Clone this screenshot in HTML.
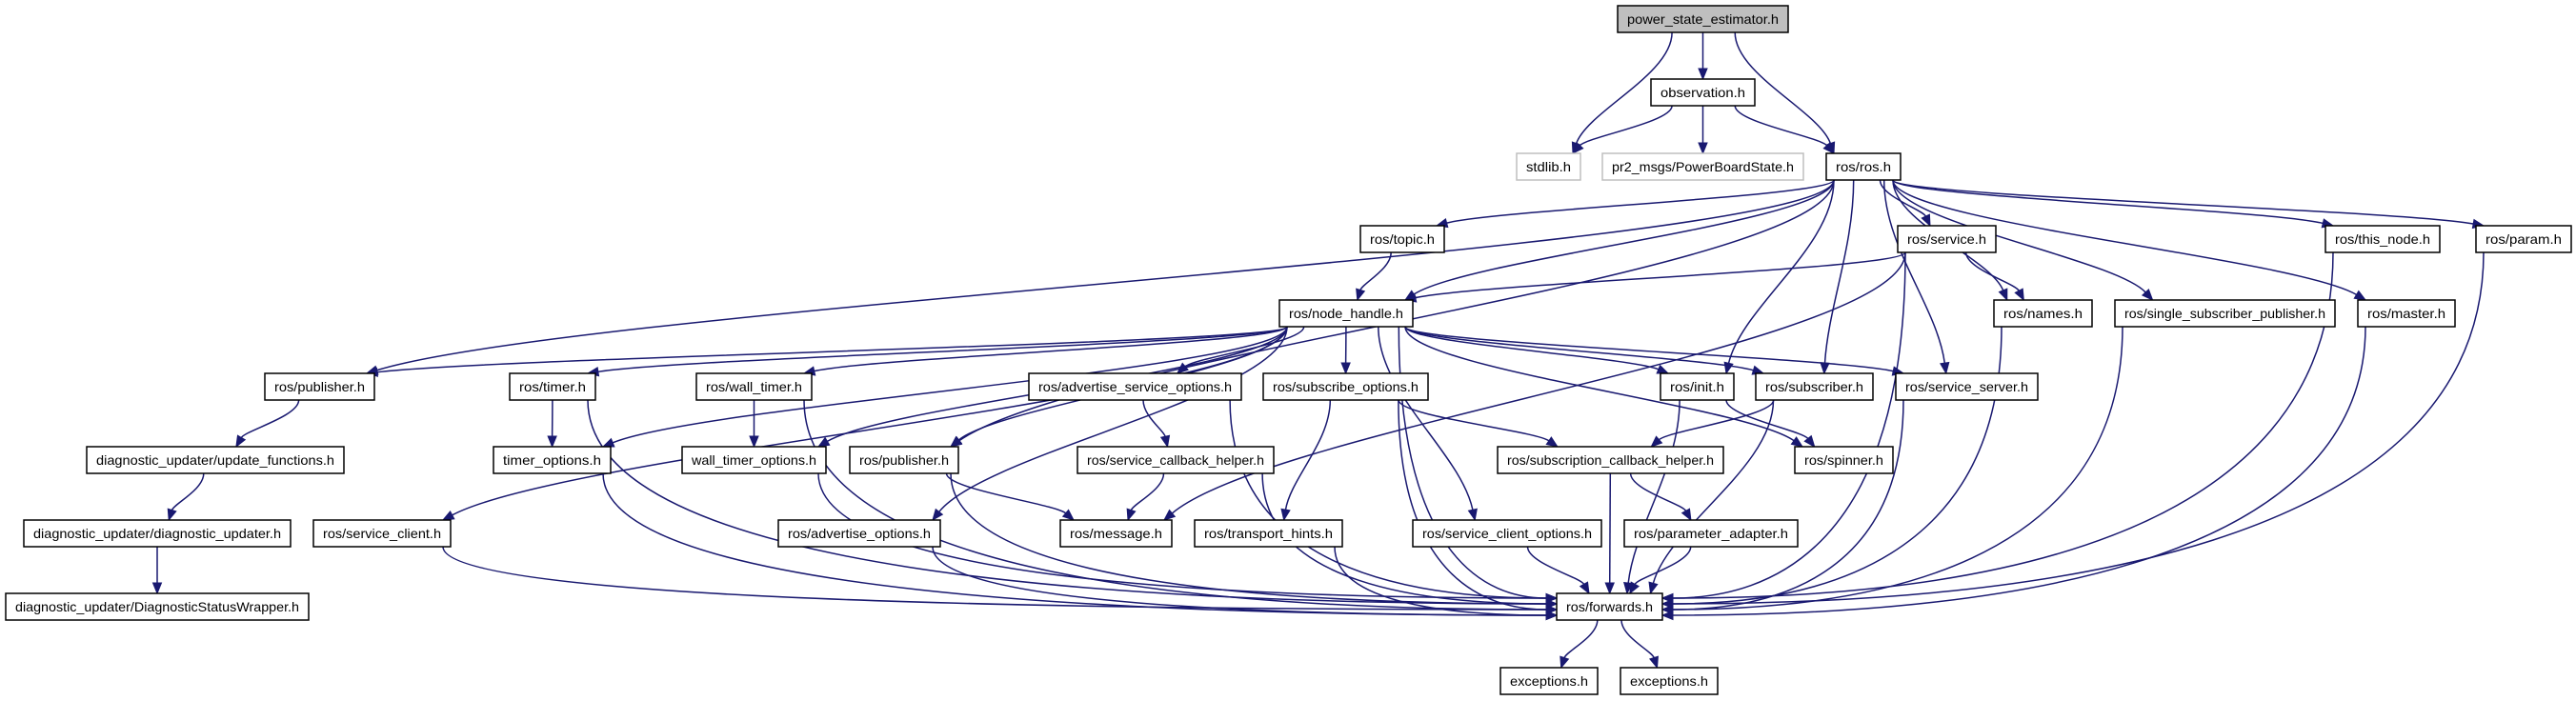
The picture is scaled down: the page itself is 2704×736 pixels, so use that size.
<!DOCTYPE html>
<html><head><meta charset="utf-8"><style>
html,body{margin:0;padding:0;background:#fff;}
svg{display:block;}
text{font-family:"Liberation Sans",sans-serif;font-size:14px;fill:#000;}
</style></head><body>
<svg id="g" width="2704" height="736" viewBox="0 0 2704 736" xmlns="http://www.w3.org/2000/svg">
<g id="edges" fill="none" stroke="#191970" stroke-width="1.5"></g>
<g id="arrows" fill="#191970" stroke="#191970" stroke-width="1"></g>
<g id="nodes">
<rect x="1698" y="6" width="179" height="28" fill="#bfbfbf" stroke="#000" stroke-width="1.5"/><text x="1787.5" y="25" text-anchor="middle" textLength="159" lengthAdjust="spacingAndGlyphs">power_state_estimator.h</text>
<rect x="1733" y="83" width="109" height="28" fill="#fff" stroke="#000" stroke-width="1.5"/><text x="1787.5" y="102" text-anchor="middle" textLength="89" lengthAdjust="spacingAndGlyphs">observation.h</text>
<rect x="1592" y="161" width="67" height="28" fill="#fff" stroke="#bfbfbf" stroke-width="1.5"/><text x="1625.5" y="180" text-anchor="middle" textLength="47" lengthAdjust="spacingAndGlyphs">stdlib.h</text>
<rect x="1682" y="161" width="211" height="28" fill="#fff" stroke="#bfbfbf" stroke-width="1.5"/><text x="1787.5" y="180" text-anchor="middle" textLength="191" lengthAdjust="spacingAndGlyphs">pr2_msgs/PowerBoardState.h</text>
<rect x="1917" y="161" width="78" height="28" fill="#fff" stroke="#000" stroke-width="1.5"/><text x="1956" y="180" text-anchor="middle" textLength="58" lengthAdjust="spacingAndGlyphs">ros/ros.h</text>
<rect x="1428" y="237" width="88" height="28" fill="#fff" stroke="#000" stroke-width="1.5"/><text x="1472" y="256" text-anchor="middle" textLength="68" lengthAdjust="spacingAndGlyphs">ros/topic.h</text>
<rect x="1992" y="237" width="103" height="28" fill="#fff" stroke="#000" stroke-width="1.5"/><text x="2043.5" y="256" text-anchor="middle" textLength="83" lengthAdjust="spacingAndGlyphs">ros/service.h</text>
<rect x="2441" y="237" width="120" height="28" fill="#fff" stroke="#000" stroke-width="1.5"/><text x="2501" y="256" text-anchor="middle" textLength="100" lengthAdjust="spacingAndGlyphs">ros/this_node.h</text>
<rect x="2599" y="237" width="100" height="28" fill="#fff" stroke="#000" stroke-width="1.5"/><text x="2649" y="256" text-anchor="middle" textLength="80" lengthAdjust="spacingAndGlyphs">ros/param.h</text>
<rect x="1343" y="315" width="140" height="28" fill="#fff" stroke="#000" stroke-width="1.5"/><text x="1413" y="334" text-anchor="middle" textLength="120" lengthAdjust="spacingAndGlyphs">ros/node_handle.h</text>
<rect x="2093" y="315" width="103" height="28" fill="#fff" stroke="#000" stroke-width="1.5"/><text x="2144.5" y="334" text-anchor="middle" textLength="83" lengthAdjust="spacingAndGlyphs">ros/names.h</text>
<rect x="2220" y="315" width="231" height="28" fill="#fff" stroke="#000" stroke-width="1.5"/><text x="2335.5" y="334" text-anchor="middle" textLength="211" lengthAdjust="spacingAndGlyphs">ros/single_subscriber_publisher.h</text>
<rect x="2475" y="315" width="102" height="28" fill="#fff" stroke="#000" stroke-width="1.5"/><text x="2526" y="334" text-anchor="middle" textLength="82" lengthAdjust="spacingAndGlyphs">ros/master.h</text>
<rect x="278" y="392" width="115" height="28" fill="#fff" stroke="#000" stroke-width="1.5"/><text x="335.5" y="411" text-anchor="middle" textLength="95" lengthAdjust="spacingAndGlyphs">ros/publisher.h</text>
<rect x="535" y="392" width="90" height="28" fill="#fff" stroke="#000" stroke-width="1.5"/><text x="580" y="411" text-anchor="middle" textLength="70" lengthAdjust="spacingAndGlyphs">ros/timer.h</text>
<rect x="731" y="392" width="121" height="28" fill="#fff" stroke="#000" stroke-width="1.5"/><text x="791.5" y="411" text-anchor="middle" textLength="101" lengthAdjust="spacingAndGlyphs">ros/wall_timer.h</text>
<rect x="1080" y="392" width="223" height="28" fill="#fff" stroke="#000" stroke-width="1.5"/><text x="1191.5" y="411" text-anchor="middle" textLength="203" lengthAdjust="spacingAndGlyphs">ros/advertise_service_options.h</text>
<rect x="1326" y="392" width="173" height="28" fill="#fff" stroke="#000" stroke-width="1.5"/><text x="1412.5" y="411" text-anchor="middle" textLength="153" lengthAdjust="spacingAndGlyphs">ros/subscribe_options.h</text>
<rect x="1743" y="392" width="77" height="28" fill="#fff" stroke="#000" stroke-width="1.5"/><text x="1781.5" y="411" text-anchor="middle" textLength="57" lengthAdjust="spacingAndGlyphs">ros/init.h</text>
<rect x="1843" y="392" width="123" height="28" fill="#fff" stroke="#000" stroke-width="1.5"/><text x="1904.5" y="411" text-anchor="middle" textLength="103" lengthAdjust="spacingAndGlyphs">ros/subscriber.h</text>
<rect x="1990" y="392" width="149" height="28" fill="#fff" stroke="#000" stroke-width="1.5"/><text x="2064.5" y="411" text-anchor="middle" textLength="129" lengthAdjust="spacingAndGlyphs">ros/service_server.h</text>
<rect x="91" y="469" width="270" height="28" fill="#fff" stroke="#000" stroke-width="1.5"/><text x="226" y="488" text-anchor="middle" textLength="250" lengthAdjust="spacingAndGlyphs">diagnostic_updater/update_functions.h</text>
<rect x="518" y="469" width="123" height="28" fill="#fff" stroke="#000" stroke-width="1.5"/><text x="579.5" y="488" text-anchor="middle" textLength="103" lengthAdjust="spacingAndGlyphs">timer_options.h</text>
<rect x="716" y="469" width="151" height="28" fill="#fff" stroke="#000" stroke-width="1.5"/><text x="791.5" y="488" text-anchor="middle" textLength="131" lengthAdjust="spacingAndGlyphs">wall_timer_options.h</text>
<rect x="892" y="469" width="114" height="28" fill="#fff" stroke="#000" stroke-width="1.5"/><text x="949" y="488" text-anchor="middle" textLength="94" lengthAdjust="spacingAndGlyphs">ros/publisher.h</text>
<rect x="1131" y="469" width="206" height="28" fill="#fff" stroke="#000" stroke-width="1.5"/><text x="1234" y="488" text-anchor="middle" textLength="186" lengthAdjust="spacingAndGlyphs">ros/service_callback_helper.h</text>
<rect x="1572" y="469" width="237" height="28" fill="#fff" stroke="#000" stroke-width="1.5"/><text x="1690.5" y="488" text-anchor="middle" textLength="217" lengthAdjust="spacingAndGlyphs">ros/subscription_callback_helper.h</text>
<rect x="1884" y="469" width="103" height="28" fill="#fff" stroke="#000" stroke-width="1.5"/><text x="1935.5" y="488" text-anchor="middle" textLength="83" lengthAdjust="spacingAndGlyphs">ros/spinner.h</text>
<rect x="25" y="546" width="280" height="28" fill="#fff" stroke="#000" stroke-width="1.5"/><text x="165" y="565" text-anchor="middle" textLength="260" lengthAdjust="spacingAndGlyphs">diagnostic_updater/diagnostic_updater.h</text>
<rect x="329" y="546" width="144" height="28" fill="#fff" stroke="#000" stroke-width="1.5"/><text x="401" y="565" text-anchor="middle" textLength="124" lengthAdjust="spacingAndGlyphs">ros/service_client.h</text>
<rect x="817" y="546" width="170" height="28" fill="#fff" stroke="#000" stroke-width="1.5"/><text x="902" y="565" text-anchor="middle" textLength="150" lengthAdjust="spacingAndGlyphs">ros/advertise_options.h</text>
<rect x="1113" y="546" width="117" height="28" fill="#fff" stroke="#000" stroke-width="1.5"/><text x="1171.5" y="565" text-anchor="middle" textLength="97" lengthAdjust="spacingAndGlyphs">ros/message.h</text>
<rect x="1254" y="546" width="155" height="28" fill="#fff" stroke="#000" stroke-width="1.5"/><text x="1331.5" y="565" text-anchor="middle" textLength="135" lengthAdjust="spacingAndGlyphs">ros/transport_hints.h</text>
<rect x="1483" y="546" width="198" height="28" fill="#fff" stroke="#000" stroke-width="1.5"/><text x="1582" y="565" text-anchor="middle" textLength="178" lengthAdjust="spacingAndGlyphs">ros/service_client_options.h</text>
<rect x="1705" y="546" width="182" height="28" fill="#fff" stroke="#000" stroke-width="1.5"/><text x="1796" y="565" text-anchor="middle" textLength="162" lengthAdjust="spacingAndGlyphs">ros/parameter_adapter.h</text>
<rect x="6" y="623" width="318" height="28" fill="#fff" stroke="#000" stroke-width="1.5"/><text x="165" y="642" text-anchor="middle" textLength="298" lengthAdjust="spacingAndGlyphs">diagnostic_updater/DiagnosticStatusWrapper.h</text>
<rect x="1634" y="623" width="111" height="28" fill="#fff" stroke="#000" stroke-width="1.5"/><text x="1689.5" y="642" text-anchor="middle" textLength="91" lengthAdjust="spacingAndGlyphs">ros/forwards.h</text>
<rect x="1575" y="701" width="102" height="28" fill="#fff" stroke="#000" stroke-width="1.5"/><text x="1626" y="720" text-anchor="middle" textLength="82" lengthAdjust="spacingAndGlyphs">exceptions.h</text>
<rect x="1701" y="701" width="102" height="28" fill="#fff" stroke="#000" stroke-width="1.5"/><text x="1752" y="720" text-anchor="middle" textLength="82" lengthAdjust="spacingAndGlyphs">exceptions.h</text>
</g>
</svg>
<script>
var Y=[20,97,175,251,329,406,483,560,637,715];
var N={
pse:[1698,1877,0],obs:[1733,1842,1],std:[1592,1659,2],pr2:[1682,1893,2],ros:[1917,1995,2],
topic:[1428,1516,3],svc:[1992,2095,3],thisn:[2441,2561,3],param:[2599,2699,3],
nh:[1343,1483,4],names:[2093,2196,4],ssp:[2220,2451,4],master:[2475,2577,4],
pub5:[278,393,5],timer:[535,625,5],wt:[731,852,5],aso:[1080,1303,5],so:[1326,1499,5],init:[1743,1820,5],sub:[1843,1966,5],ss:[1990,2139,5],
uf:[91,361,6],to:[518,641,6],wto:[716,867,6],pub6:[892,1006,6],sch:[1131,1337,6],subch:[1572,1809,6],spin:[1884,1987,6],
du:[25,305,7],sc:[329,473,7],ao:[817,987,7],msg:[1113,1230,7],th:[1254,1409,7],sco:[1483,1681,7],pa:[1705,1887,7],
dsw:[6,324,8],fw:[1634,1745,8],ex1:[1575,1677,9],ex2:[1701,1803,9]};
var E="pse-std pse-obs pse-ros obs-std obs-pr2 obs-ros ros-pub5 ros-pub6 ros-topic ros-nh ros-init ros-sub ros-ss ros-svc ros-names ros-ssp ros-master ros-thisn ros-param topic-nh svc-nh svc-names svc-msg svc-fw names-fw ssp-fw master-fw thisn-fw param-fw nh-pub5 nh-timer nh-wt nh-to nh-wto nh-sc nh-pub6 nh-ao nh-aso nh-so nh-sco nh-init nh-sub nh-ss nh-spin nh-fw pub5-uf uf-du du-dsw timer-to timer-fw wt-wto wt-fw to-fw wto-fw pub6-msg pub6-fw sc-fw ao-fw aso-sch aso-fw sch-msg sch-fw so-th so-subch so-fw th-fw sco-fw subch-pa subch-fw pa-fw init-spin init-fw sub-subch sub-fw ss-fw fw-ex1 fw-ex2".split(" ");
var ns="http://www.w3.org/2000/svg",eg=document.getElementById("edges"),ag=document.getElementById("arrows");
function cl(v,a,b){return Math.max(a,Math.min(b,v));}
var li=0,ri=0;
E.forEach(function(e){var p=e.split("-"),s=N[p[0]],t=N[p[1]];
var scx=(s[0]+s[1])/2,tcx=(t[0]+t[1])/2;
var sx=cl(scx+(tcx-scx)*0.2,s[0]+8,s[1]-8);
var sy=Y[s[2]]+14,tx,ty,c1x,c1y,c2x,c2y;
if(p[1]=="fw" && Math.abs(scx-tcx)>220){
  if(scx<tcx){tx=t[0];ty=628+(li%4)*6;li++;}else{tx=t[1];ty=628+(ri%4)*6;ri++;}
  c1x=sx;c1y=sy+(ty-sy)*0.85;c2x=tx+(sx-tx)*0.45;c2y=ty;
}else{
  tx=cl(tcx+(scx-tcx)*0.2,t[0]+8,t[1]-8);ty=Y[t[2]]-14;
  var dy=(ty-sy)*0.5;
  c1x=sx;c1y=sy+dy*0.7;c2x=tx+(sx-tx)*0.15;c2y=ty-dy*0.7;
}
var dx=tx-c2x,dd=ty-c2y,L=Math.sqrt(dx*dx+dd*dd);dx/=L;dd/=L;
var bx=tx-dx*11,by=ty-dd*11;
var path=document.createElementNS(ns,"path");
path.setAttribute("d","M"+sx+","+sy+" C"+c1x+","+c1y+" "+c2x+","+c2y+" "+bx+","+by);
eg.appendChild(path);
var pg=document.createElementNS(ns,"polygon");
pg.setAttribute("points",tx+","+ty+" "+(bx-dd*4.5)+","+(by+dx*4.5)+" "+(bx+dd*4.5)+","+(by-dx*4.5));
ag.appendChild(pg);});
</script>
</body></html>
